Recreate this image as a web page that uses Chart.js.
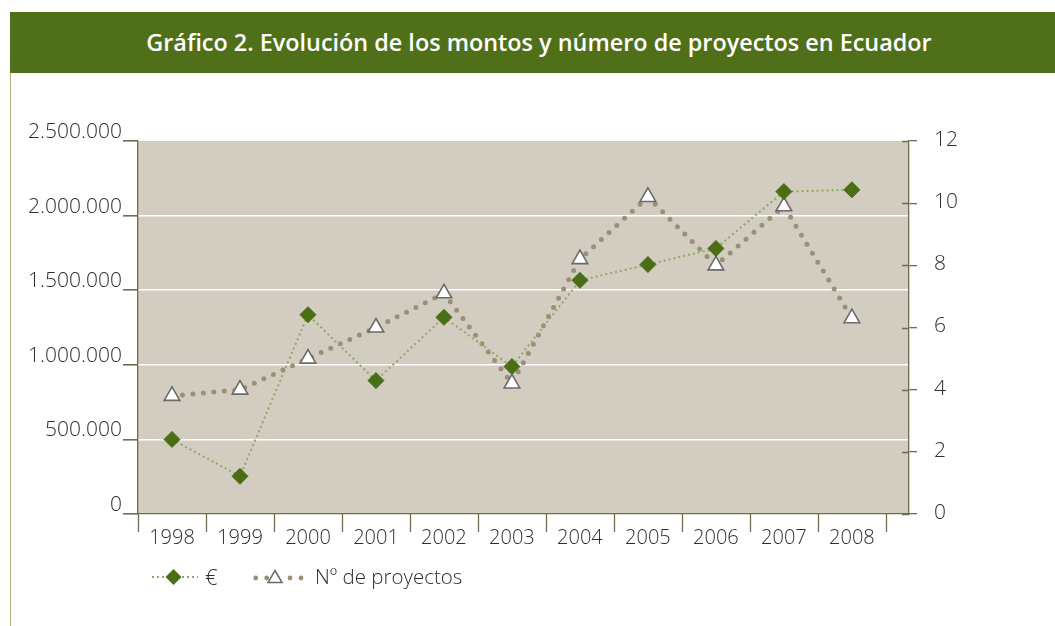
<!DOCTYPE html>
<html>
<head>
<meta charset="utf-8">
<script src="https://cdn.jsdelivr.net/npm/chart.js@4.4.1/dist/chart.umd.min.js"></script>
<style>
  html, body { margin: 0; padding: 0; background: #fff; }
  body { width: 1055px; height: 626px; position: relative; overflow: hidden; font-family: "Open Sans", sans-serif; }
  #title {
    position: absolute; left: 10px; top: 12px; width: 1045px; height: 61px;
    background: #4f7019; color: #fff; font-family: "Open Sans", sans-serif;
    font-weight: 600; font-size: 23.4px; line-height: 60px; text-align: center;
    box-sizing: border-box; padding-left: 13px;
  }
  #leftline { position: absolute; left: 10px; top: 73px; width: 1px; height: 553px; background: #a9bb84; }
  #wrap { position: absolute; left: 0; top: 0; width: 1055px; height: 626px; }
  #legend { position: absolute; left: 0; top: 561px; height: 32px; width: 600px; font-size: 20.5px; font-weight: 300; color: #2e2e2e; }
  #legend .item { position: absolute; top: 0; height: 32px; line-height: 30px; white-space: nowrap; }
  #legend svg { position: absolute; top: 0; }
</style>
</head>
<body>
<div id="title">Gráfico 2. Evolución de los montos y número de proyectos en Ecuador</div>
<div id="leftline"></div>
<div id="wrap"><canvas id="c"></canvas></div>
<div id="legend">
  <svg style="left:150px" width="50" height="32">
    <line x1="2" y1="16" x2="48" y2="16" stroke="#8daa63" stroke-width="2" stroke-dasharray="2 3"/>
    <polygon points="23.5,8 31.5,16 23.5,24 15.5,16" fill="#4a6e16"/>
  </svg>
  <div class="item" style="left:205px; font-size:22px">€</div>
  <svg style="left:250px" width="58" height="32">
    <circle cx="5.7" cy="17" r="2.4" fill="#9b8f79"/>
    <circle cx="16.7" cy="17" r="2.4" fill="#9b8f79"/>
    <circle cx="40" cy="17" r="2.4" fill="#9b8f79"/>
    <circle cx="51" cy="17" r="2.4" fill="#9b8f79"/>
    <polygon points="25,9.5 32,21.5 18,21.5" fill="#fff" stroke="#6a6a6a" stroke-width="1.5"/>
  </svg>
  <div class="item" style="left:315px">Nº de proyectos</div>
</div>
<script>
// ---- data ----
const years = ['1998','1999','2000','2001','2002','2003','2004','2005','2006','2007','2008'];
const montosEuros = [500000, 253000, 1336000, 894000, 1318000, 988000, 1566000, 1672000, 1780000, 2161000, 2173000];
const numProyectos = [3.8, 4.0, 5.0, 6.0, 7.1, 4.2, 8.2, 10.2, 8.0, 9.9, 6.3];
const seriesNames = ['€', 'Nº de proyectos'];

const OLIVE = '#706c4e';
const TXT = '#2e2e2e';
const AX_FONT = { family: '"Open Sans", sans-serif', size: 21, weight: 300 };

function fmt(v) { return String(v).replace(/\B(?=(\d{3})+(?!\d))/g, '.'); }

const decor = {
  id: 'decor',
  beforeDraw(chart) {
    const { ctx, chartArea: a } = chart;
    ctx.save();
    ctx.fillStyle = '#d3cdc1';
    ctx.fillRect(a.left, a.top, a.right - a.left, a.bottom - a.top);
    ctx.restore();
  },
  afterDraw(chart) {
    const { ctx, chartArea: a } = chart;
    const xs = chart.scales.x, y1 = chart.scales.y1;
    ctx.save();
    ctx.strokeStyle = OLIVE;
    ctx.lineWidth = 1.3;
    ctx.beginPath();
    for (let i = 0; i <= years.length; i++) {
      const px = Math.round(xs.getPixelForValue(i - 0.5)) + 0.5;
      ctx.moveTo(px, a.bottom);
      ctx.lineTo(px, a.bottom + 18);
    }
    y1.ticks.forEach(t => {
      const py = Math.round(y1.getPixelForValue(t.value)) + 0.5;
      ctx.moveTo(a.right - 7, py);
      ctx.lineTo(a.right, py);
    });
    ctx.stroke();
    ctx.restore();
  }
};

new Chart(document.getElementById('c'), {
  type: 'line',
  data: {
    datasets: [
      {
        label: seriesNames[0],
        data: montosEuros.map((v, i) => ({ x: i, y: v })),
        yAxisID: 'y',
        borderColor: '#8daa63',
        borderWidth: 2,
        borderDash: [2, 3],
        pointStyle: 'rectRot',
        pointRadius: 8,
        pointBackgroundColor: '#4a6e16',
        pointBorderColor: '#4a6e16',
        pointBorderWidth: 1,
        tension: 0,
        fill: false
      },
      {
        label: seriesNames[1],
        data: numProyectos.map((v, i) => ({ x: i, y: v })),
        yAxisID: 'y1',
        borderColor: '#9b8f79',
        borderWidth: 5,
        borderDash: [0, 10.5],
        borderCapStyle: 'round',
        pointStyle: 'triangle',
        pointRadius: 9,
        pointBackgroundColor: '#ffffff',
        pointBorderColor: '#6a6a6a',
        pointBorderWidth: 1.6,
        tension: 0,
        fill: false
      }
    ]
  },
  options: {
    responsive: true,
    maintainAspectRatio: false,
    animation: false,
    events: [],
    layout: { padding: { top: 141, left: 0, right: 0, bottom: 0 } },
    plugins: { legend: { display: false }, tooltip: { enabled: false }, title: { display: false } },
    scales: {
      x: {
        type: 'linear',
        min: -0.5,
        max: 10.84,
        afterBuildTicks: (s) => { s.ticks = years.map((_, i) => ({ value: i })); },
        afterFit: (s) => { s.height = 112; },
        grid: { display: false, drawTicks: false },
        border: { display: true, color: OLIVE, width: 1.3 },
        ticks: {
          autoSkip: false, maxRotation: 0, minRotation: 0,
          padding: 12,
          color: TXT,
          font: { family: '"Open Sans", sans-serif', size: 20, weight: 300 },
          callback: (v) => years[v]
        }
      },
      y: {
        type: 'linear',
        position: 'left',
        min: 0,
        max: 2500000,
        afterFit: (s) => { s.width = 138; },
        border: { display: true, color: OLIVE, width: 1.3 },
        grid: {
          color: (c) => (c.tick && (c.tick.value === 0 || c.tick.value === 2500000)) ? 'rgba(0,0,0,0)' : '#ffffff',
          lineWidth: 1.6,
          tickColor: OLIVE,
          tickLength: 15,
          drawTicks: true
        },
        ticks: {
          stepSize: 500000,
          padding: 1,
          labelOffset: -9,
          color: TXT,
          font: AX_FONT,
          callback: (v) => fmt(v)
        }
      },
      y1: {
        type: 'linear',
        position: 'right',
        min: 0,
        max: 12,
        afterFit: (s) => { s.width = 146; },
        border: { display: true, color: OLIVE, width: 1.3 },
        grid: { drawOnChartArea: false, color: OLIVE, tickLength: 8, lineWidth: 1.3 },
        ticks: {
          stepSize: 2,
          padding: 17,
          labelOffset: -1,
          color: TXT,
          font: AX_FONT
        }
      }
    }
  },
  plugins: [decor]
});
</script>
</body>
</html>
